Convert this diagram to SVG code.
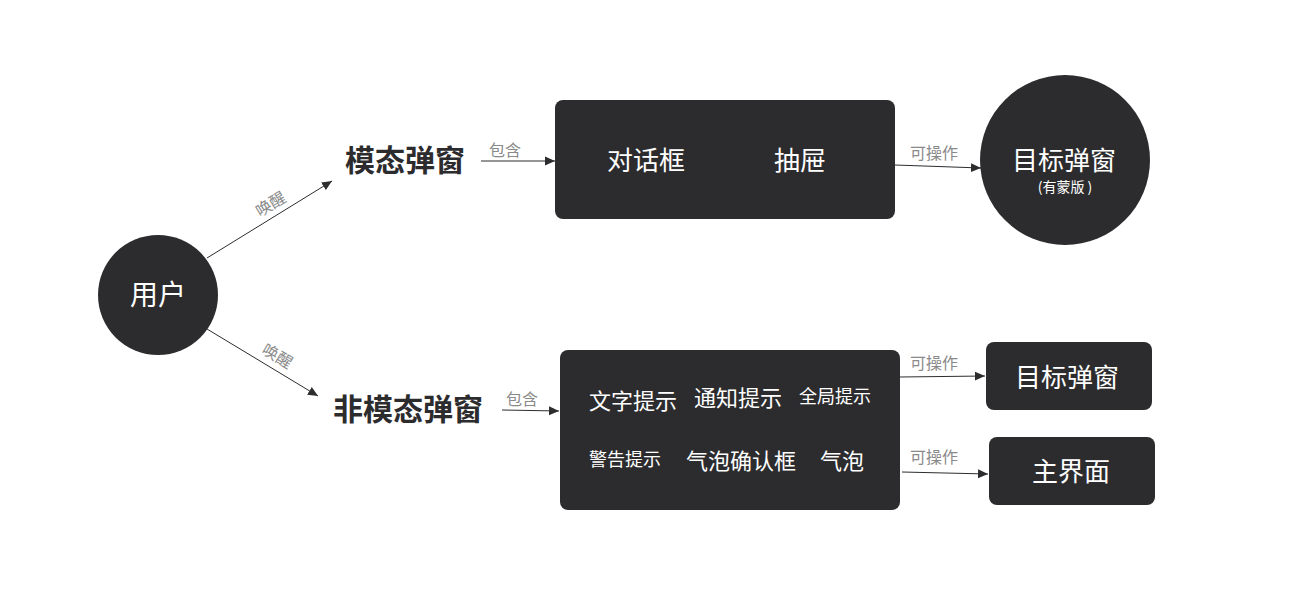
<svg xmlns="http://www.w3.org/2000/svg" width="1300" height="600" viewBox="0 0 1300 600">
<defs>
<marker id="arr" viewBox="0 0 10 10" refX="10" refY="5" markerWidth="10" markerHeight="10" markerUnits="userSpaceOnUse" orient="auto">
<path d="M0,0.5 L10,5 L0,9.5 Z" fill="#2d2d2f"/>
</marker>
<style>
.box{fill:#2c2c2e}
.t{font-family:"Noto Sans CJK SC","Noto Sans",sans-serif;fill:#fff;text-anchor:middle;dominant-baseline:central}
.h{font-family:"Noto Sans CJK SC","Noto Sans",sans-serif;fill:#2c2c2e;font-weight:bold;font-size:30px;text-anchor:middle;dominant-baseline:central}
.lbl{font-family:"Noto Sans CJK SC","Noto Sans",sans-serif;fill:#8a8a8a;font-size:16px;text-anchor:middle;dominant-baseline:central}
.ln{stroke:#2d2d2f;stroke-width:1;fill:none;marker-end:url(#arr)}
</style>
</defs>
<rect width="1300" height="600" fill="#fff"/>
<g id="connectors">
<line class="ln" x1="207" y1="258" x2="332" y2="181"/>
<text class="lbl" transform="translate(270,203) rotate(-31)">唤醒</text>
<line class="ln" x1="207" y1="329" x2="318" y2="396"/>
<text class="lbl" transform="translate(278,355) rotate(31)">唤醒</text>
<line class="ln" x1="481" y1="161" x2="555" y2="161"/>
<text class="lbl" x="505" y="149">包含</text>
<line class="ln" x1="502" y1="410" x2="559" y2="411"/>
<text class="lbl" x="522" y="398">包含</text>
<line class="ln" x1="895" y1="165" x2="981" y2="168"/>
<text class="lbl" x="934" y="152">可操作</text>
<line class="ln" x1="900" y1="377" x2="985" y2="376"/>
<text class="lbl" x="934" y="362">可操作</text>
<line class="ln" x1="902" y1="472" x2="988" y2="474"/>
<text class="lbl" x="934" y="456">可操作</text>
</g>
<g id="user">
<circle class="box" cx="158" cy="295" r="60"/>
<text class="t" x="158" y="293" font-size="28">用户</text>
</g>
<g id="modal">
<text class="h" x="405" y="158">模态弹窗</text>
</g>
<g id="nonmodal">
<text class="h" x="408" y="407">非模态弹窗</text>
</g>
<g id="modal-box">
<rect class="box" x="555" y="100" width="340" height="119" rx="8"/>
<text class="t" x="646" y="158" font-size="26">对话框</text>
<text class="t" x="800" y="158" font-size="26">抽屉</text>
</g>
<g id="target-mask">
<circle class="box" cx="1065" cy="160" r="85"/>
<text class="t" x="1064" y="158" font-size="26">目标弹窗</text>
<text class="t" x="1065" y="186" font-size="14">(有蒙版 )</text>
</g>
<g id="nonmodal-box">
<rect class="box" x="560" y="350" width="340" height="160" rx="8"/>
<text class="t" x="633" y="399" font-size="22">文字提示</text>
<text class="t" x="738" y="396" font-size="22">通知提示</text>
<text class="t" x="835" y="395" font-size="18">全局提示</text>
<text class="t" x="625" y="458" font-size="18">警告提示</text>
<text class="t" x="741" y="459" font-size="22">气泡确认框</text>
<text class="t" x="842" y="459" font-size="22">气泡</text>
</g>
<g id="target">
<rect class="box" x="986" y="342" width="166" height="68" rx="8"/>
<text class="t" x="1067" y="375" font-size="26">目标弹窗</text>
</g>
<g id="main">
<rect class="box" x="989" y="437" width="166" height="68" rx="8"/>
<text class="t" x="1071" y="469" font-size="26">主界面</text>
</g>
</svg>
